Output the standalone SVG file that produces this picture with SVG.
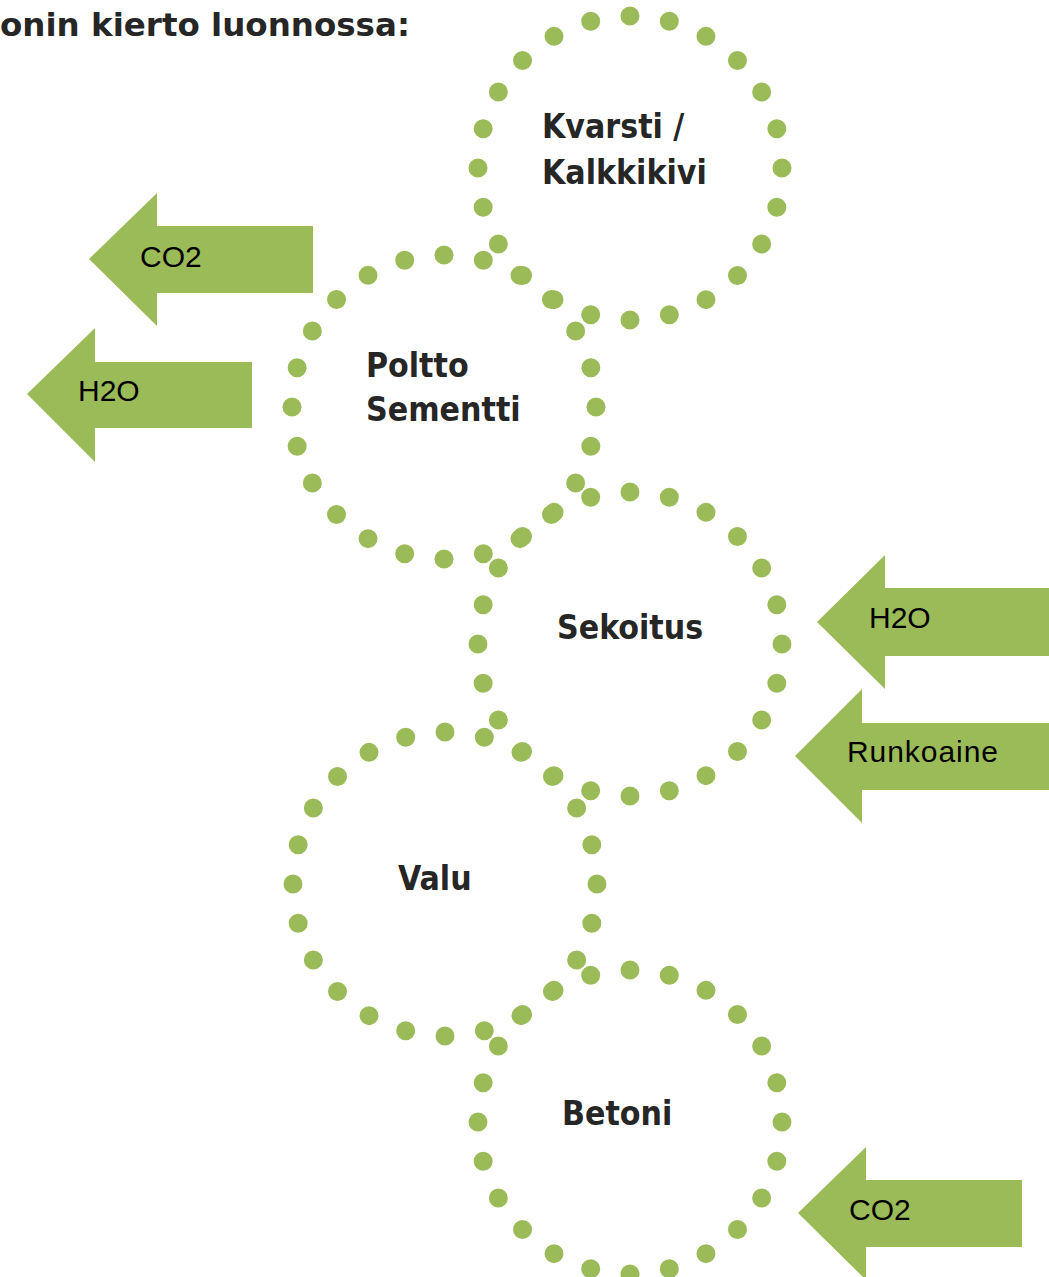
<svg xmlns="http://www.w3.org/2000/svg" width="1049" height="1277" viewBox="0 0 1049 1277">
<style>
.ring{fill:none;stroke:#9BBB59;stroke-width:19;stroke-linecap:round;stroke-dasharray:0 1}
.arrow{fill:#9BBB59}
.lbl{font-family:"DejaVu Sans Condensed","DejaVu Sans",sans-serif;font-stretch:condensed;font-weight:bold;font-size:33.5px;fill:#262626}
.alb{font-family:"Liberation Sans",Arial,sans-serif;font-size:30px;fill:#000}
.title{font-family:"DejaVu Sans",sans-serif;font-weight:bold;font-size:32.5px;fill:#262626}
</style>
<rect width="1049" height="1277" fill="#fff"/>
<text class="title" x="0" y="36">onin kierto luonnossa:</text>
<g id="connectors">
<g id="arrow-co2-top"><polygon class="arrow" points="89,259 157,193 157,226 313,226 313,293 157,293 157,326"/><text class="alb" x="140" y="267">CO2</text></g>
<g id="arrow-h2o-left"><polygon class="arrow" points="27,394 95,328 95,362 252,362 252,428 95,428 95,462"/><text class="alb" x="78" y="401">H2O</text></g>
<g id="arrow-h2o-right"><polygon class="arrow" points="817,622 885,555 885,588 1049,588 1049,656 885,656 885,689"/><text class="alb" x="869" y="628">H2O</text></g>
<g id="arrow-runkoaine"><polygon class="arrow" points="795,756 862,689 862,723 1049,723 1049,790 862,790 862,823"/><text class="alb" x="847" y="762" textLength="151">Runkoaine</text></g>
<g id="arrow-co2-bottom"><polygon class="arrow" points="798,1213 866,1147 866,1180 1022,1180 1022,1247 866,1247 866,1280"/><text class="alb" x="849" y="1220">CO2</text></g>
</g>
<g id="node-kvarsti"><circle class="ring" cx="630" cy="168" r="152" pathLength="24"/><text class="lbl" x="542" y="138">Kvarsti /</text><text class="lbl" x="542" y="184">Kalkkikivi</text></g>
<g id="node-poltto"><circle class="ring" cx="444" cy="407" r="152" pathLength="24"/><text class="lbl" x="366" y="377">Poltto</text><text class="lbl" x="366" y="421">Sementti</text></g>
<g id="node-sekoitus"><circle class="ring" cx="630" cy="644" r="152" pathLength="24"/><text class="lbl" x="557" y="639">Sekoitus</text></g>
<g id="node-valu"><circle class="ring" cx="445" cy="884" r="152" pathLength="24"/><text class="lbl" x="398" y="890">Valu</text></g>
<g id="node-betoni"><circle class="ring" cx="630" cy="1122" r="152" pathLength="24"/><text class="lbl" x="562" y="1125">Betoni</text></g>
</svg>
